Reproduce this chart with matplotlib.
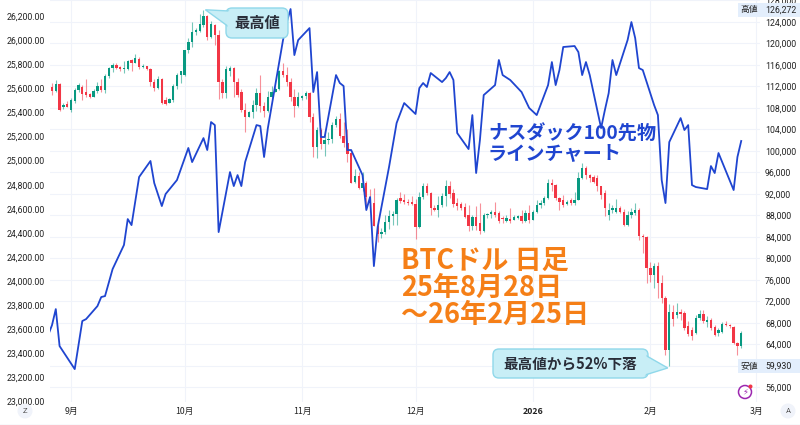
import matplotlib.pyplot as plt
import matplotlib.dates as mdates
from matplotlib.patches import FancyBboxPatch, Polygon, Rectangle, Circle
from matplotlib.transforms import IdentityTransform
import numpy as np
import pandas as pd

plt.rcParams['font.family'] = ['Noto Sans CJK JP', 'DejaVu Sans']

# BTC/USD daily candles (thousand USD), 2025-08-27 .. 2026-02-25
btc_dates = pd.date_range('2025-08-27', '2026-02-25', freq='D')
btc_open = [
    111.9, 111.2, 112.5, 108.2, 108.7, 107.6, 109.3, 111.4, 111.9, 110.9,
    110.6, 110.1, 111.2, 112.1, 111.3, 113.9, 115.4, 116.0, 115.6, 115.3,
    115.3, 116.9, 116.4, 117.2, 115.6, 115.8, 115.3, 112.8, 111.7, 113.4,
    109.4, 109.0, 109.5, 112.1, 114.1, 114.1, 118.7, 120.3, 122.1, 122.4,
    123.5, 125.1, 121.2, 123.4, 121.6, 112.8, 110.7, 114.9, 115.4, 112.9,
    110.9, 107.6, 106.4, 107.2, 108.6, 110.8, 108.4, 107.4, 110.1, 111.0,
    111.6, 114.8, 114.1, 112.9, 110.0, 108.3, 109.8, 110.2, 110.8, 106.4,
    100.8, 103.9, 101.3, 102.0, 102.3, 104.8, 106.0, 102.8, 101.4, 99.6,
    94.2, 95.4, 93.2, 94.0, 91.5, 90.3, 86.0, 84.5, 84.9, 86.8,
    87.9, 88.3, 91.3, 90.9, 90.6, 90.6, 90.2, 85.9, 91.4, 93.4,
    92.1, 89.3, 89.0, 90.0, 91.7, 93.4, 92.2, 90.3, 90.2, 89.6,
    88.1, 86.0, 87.8, 86.6, 85.2, 88.1, 88.3, 88.7, 88.4, 87.6,
    86.9, 87.4, 87.2, 87.6, 87.9, 86.9, 88.4, 87.2, 88.7, 89.9,
    90.3, 91.2, 94.0, 93.6, 91.3, 90.9, 90.2, 90.9, 90.3, 90.9,
    95.0, 96.8, 95.5, 95.2, 94.9, 93.4, 92.2, 88.1, 89.0, 88.7,
    89.3, 88.7, 86.2, 88.1, 88.5, 89.0, 84.2, 84.0, 78.3, 76.9,
    78.6, 75.4, 72.6, 62.9, 70.1, 69.5, 70.0, 69.9, 67.4, 66.7,
    66.1, 68.9, 69.6, 68.2, 68.6, 67.3, 66.1, 66.4, 67.9, 67.7,
    67.3, 64.2, 63.7]
btc_high = [
    112.6, 113.2, 112.7, 108.9, 109.3, 109.8, 111.7, 112.6, 112.3, 113.3,
    110.8, 111.6, 112.9, 113.3, 114.3, 115.6, 116.4, 116.3, 115.9, 116.8,
    117.0, 117.2, 118.0, 117.5, 116.1, 115.9, 115.4, 113.3, 113.9, 113.6,
    110.0, 109.8, 112.4, 114.5, 114.9, 118.8, 121.0, 124.0, 122.8, 125.4,
    126.272, 125.3, 124.2, 123.7, 122.5, 113.4, 115.9, 115.9, 115.6, 113.5,
    111.5, 109.0, 107.5, 109.4, 111.7, 114.1, 109.2, 111.2, 112.0, 111.9,
    115.0, 116.4, 115.6, 113.6, 111.6, 111.0, 110.5, 111.2, 110.9, 107.0,
    104.5, 104.2, 103.8, 103.5, 105.3, 106.6, 107.0, 105.3, 104.0, 99.8,
    96.6, 96.0, 96.0, 94.4, 92.9, 93.1, 86.9, 85.6, 88.0, 89.0,
    88.9, 91.3, 92.4, 92.0, 91.0, 91.7, 91.0, 92.3, 94.0, 94.1,
    92.4, 90.0, 91.6, 92.2, 94.6, 94.4, 92.9, 91.2, 90.6, 90.3,
    90.0, 88.1, 89.7, 90.3, 88.5, 88.5, 89.0, 90.6, 88.9, 87.9,
    88.1, 89.3, 88.0, 88.1, 89.0, 89.1, 89.9, 89.0, 90.9, 90.8,
    91.7, 94.7, 94.7, 93.8, 91.4, 91.9, 90.8, 91.2, 92.4, 96.1,
    97.7, 97.2, 95.8, 95.6, 95.5, 93.5, 92.8, 90.3, 90.0, 91.1,
    89.7, 89.2, 88.9, 89.3, 90.3, 89.4, 84.6, 84.2, 79.3, 79.2,
    79.3, 76.9, 73.1, 71.5, 71.3, 71.7, 70.6, 70.3, 68.3, 67.2,
    69.4, 70.4, 70.5, 69.3, 69.0, 67.6, 67.0, 68.2, 68.3, 67.9,
    67.5, 64.5, 66.5]
btc_low = [
    110.5, 110.9, 107.5, 107.9, 108.1, 107.3, 108.9, 110.9, 109.5, 110.0,
    109.9, 110.0, 110.8, 110.9, 110.8, 113.5, 114.7, 115.2, 114.9, 114.6,
    115.1, 114.8, 116.3, 115.3, 115.4, 115.0, 112.0, 111.2, 111.5, 108.7,
    108.6, 108.9, 109.1, 111.6, 112.7, 113.9, 118.3, 119.3, 121.6, 122.1,
    123.0, 120.6, 121.0, 119.7, 109.7, 109.8, 109.8, 113.9, 110.1, 110.0,
    107.3, 103.6, 106.3, 106.1, 107.4, 107.3, 106.3, 107.2, 109.6, 110.9,
    111.3, 113.8, 112.0, 109.3, 106.3, 108.1, 109.4, 109.6, 105.3, 98.9,
    98.7, 100.3, 99.1, 101.3, 101.5, 104.5, 102.5, 100.8, 98.0, 94.0,
    94.0, 93.0, 92.6, 89.3, 88.6, 86.0, 83.0, 83.9, 84.6, 85.5,
    86.2, 86.3, 90.3, 90.2, 90.0, 89.9, 83.7, 85.6, 91.0, 91.9,
    88.1, 88.9, 87.7, 89.6, 89.7, 91.2, 89.6, 89.1, 89.1, 87.6,
    85.2, 85.3, 85.3, 84.5, 85.0, 87.5, 87.5, 87.8, 86.6, 86.6,
    86.7, 86.6, 87.1, 87.3, 86.6, 86.8, 86.6, 87.1, 88.4, 89.3,
    90.0, 91.0, 92.5, 90.9, 89.0, 89.5, 90.0, 90.0, 90.0, 90.8,
    94.8, 94.8, 94.3, 94.1, 92.6, 91.0, 87.9, 87.2, 88.5, 88.4,
    88.5, 86.0, 86.0, 87.5, 88.0, 83.5, 81.0, 75.5, 75.6, 74.5,
    72.7, 71.8, 62.0, 59.93, 67.5, 69.0, 68.5, 66.7, 65.5, 64.8,
    65.9, 68.5, 68.0, 67.3, 66.7, 65.6, 65.6, 66.1, 67.4, 67.0,
    64.0, 62.1, 63.4]
btc_close = [
    111.2, 112.5, 107.7, 108.6, 108.2, 109.5, 111.3, 112.2, 110.6, 110.4,
    110.1, 111.2, 112.1, 111.3, 113.9, 115.4, 116.0, 115.4, 115.3, 115.5,
    116.7, 116.4, 117.3, 115.6, 115.8, 115.3, 112.8, 111.7, 113.4, 109.0,
    108.8, 109.6, 112.1, 114.1, 114.8, 118.7, 120.2, 122.1, 122.5, 123.7,
    125.1, 121.2, 123.7, 121.6, 112.8, 110.7, 115.2, 115.5, 112.9, 110.4,
    107.6, 106.4, 107.2, 108.6, 110.8, 108.4, 107.4, 110.1, 111.0, 111.6,
    114.8, 114.1, 112.9, 110.0, 108.3, 110.0, 110.2, 110.8, 106.4, 100.8,
    103.9, 101.3, 102.0, 102.3, 104.8, 106.0, 102.8, 101.4, 99.4, 94.1,
    95.4, 93.2, 94.0, 91.5, 90.3, 86.0, 84.5, 84.9, 86.8, 87.9,
    88.3, 90.8, 90.7, 90.5, 90.4, 90.2, 85.9, 91.4, 93.4, 92.1,
    89.3, 89.0, 90.0, 91.7, 93.4, 92.0, 90.1, 89.7, 89.4, 87.8,
    86.0, 87.8, 86.1, 85.2, 88.1, 88.3, 88.7, 88.1, 87.0, 87.3,
    87.5, 87.0, 87.8, 87.9, 86.9, 88.4, 87.2, 88.7, 89.9, 90.3,
    91.2, 94.0, 93.6, 91.3, 90.5, 90.0, 90.6, 90.3, 90.9, 95.0,
    96.8, 95.5, 94.9, 94.3, 93.4, 91.8, 89.3, 89.0, 89.3, 89.3,
    88.7, 86.2, 88.1, 88.7, 89.0, 84.1, 84.0, 78.3, 76.9, 78.6,
    75.4, 72.6, 62.9, 70.1, 68.7, 70.1, 69.6, 67.1, 65.9, 65.6,
    68.9, 69.6, 68.3, 68.5, 67.0, 65.8, 66.7, 67.9, 67.6, 67.4,
    64.2, 63.7, 66.1]

# Nasdaq 100 futures, daily close
nq_dates = [
    '2025-08-26', '2025-08-27', '2025-08-28', '2025-08-29', '2025-09-02',
    '2025-09-04', '2025-09-05', '2025-09-08', '2025-09-09', '2025-09-10',
    '2025-09-12', '2025-09-15', '2025-09-16', '2025-09-17', '2025-09-19',
    '2025-09-22', '2025-09-23', '2025-09-25', '2025-09-26', '2025-09-29',
    '2025-10-02', '2025-10-03', '2025-10-06', '2025-10-07', '2025-10-08',
    '2025-10-09', '2025-10-10', '2025-10-13', '2025-10-14', '2025-10-15',
    '2025-10-16', '2025-10-17', '2025-10-20', '2025-10-21', '2025-10-22',
    '2025-10-23', '2025-10-27', '2025-10-28', '2025-10-29', '2025-10-30',
    '2025-10-31', '2025-11-03', '2025-11-04', '2025-11-05', '2025-11-06',
    '2025-11-07', '2025-11-10', '2025-11-11', '2025-11-12', '2025-11-13',
    '2025-11-14', '2025-11-17', '2025-11-18', '2025-11-19', '2025-11-20',
    '2025-11-21', '2025-11-24', '2025-11-26', '2025-11-28', '2025-12-01',
    '2025-12-02', '2025-12-03', '2025-12-04', '2025-12-05', '2025-12-08',
    '2025-12-09', '2025-12-10', '2025-12-11', '2025-12-12', '2025-12-15',
    '2025-12-16', '2025-12-17', '2025-12-18', '2025-12-19', '2025-12-22',
    '2025-12-23', '2025-12-24', '2025-12-26', '2025-12-29', '2025-12-30',
    '2025-12-31', '2026-01-02', '2026-01-05', '2026-01-06', '2026-01-07',
    '2026-01-08', '2026-01-09', '2026-01-12', '2026-01-13', '2026-01-14',
    '2026-01-15', '2026-01-16', '2026-01-19', '2026-01-20', '2026-01-21',
    '2026-01-22', '2026-01-23', '2026-01-26', '2026-01-27', '2026-01-28',
    '2026-01-29', '2026-01-30', '2026-02-02', '2026-02-03', '2026-02-04',
    '2026-02-05', '2026-02-06', '2026-02-09', '2026-02-10', '2026-02-11',
    '2026-02-12', '2026-02-13', '2026-02-16', '2026-02-17', '2026-02-18',
    '2026-02-19', '2026-02-23', '2026-02-24', '2026-02-25']
nq_close = [
    23553, 23635, 23768, 23461, 23270,
    23669, 23685, 23793, 23868, 23876,
    24100, 24300, 24515, 24465, 24864,
    24997, 24814, 24623, 24723, 24839,
    25105, 24988, 25187, 25088, 25320,
    25295, 24407, 24905, 24789, 24880,
    24789, 24988, 25295, 25287, 25030,
    25270, 26000, 26150, 26258, 25876,
    26000, 26100, 25569, 25735, 25196,
    25196, 25710, 25644, 25619, 25088,
    25088, 24880, 24590, 24698, 24125,
    24449, 24947, 25312, 25478, 25387,
    25602, 25644, 25611, 25727, 25652,
    25685, 25735, 25669, 25229, 25096,
    25378, 24897, 25171, 25544, 25627,
    25835, 25710, 25669, 25569, 25503,
    25437, 25378, 25627, 25818, 25627,
    25752, 25943, 25951, 25901, 25710,
    25818, 25710, 25270, 25420, 25560,
    25835, 25710, 26001, 26150, 26017,
    25768, 25752, 25461, 25378, 24839,
    24648, 25154, 25353, 25254, 25295,
    24797, 24781, 24764, 24955, 24897,
    25063, 24756, 25030, 25163]

month_ticks = ['2025-09-01', '2025-10-01', '2025-11-01', '2025-12-01',
               '2026-01-01', '2026-02-01', '2026-03-01']
month_labels = ['9月', '10月', '11月', '12月', '2026', '2月', '3月']

UP, DOWN = '#089981', '#f23645'
NQ_BLUE = '#1f45d0'
W, H = 800, 425

fig = plt.figure(figsize=(W / 100, H / 100), dpi=100)
ax = fig.add_axes([50 / W, 23 / H, 710 / W, 402 / H])   # BTC, right scale
ax2 = ax.twinx()                                         # NQ, left scale
ax.yaxis.tick_right()
ax2.yaxis.tick_left()

x0 = mdates.date2num(btc_dates[0])
ax.set_xlim(x0 - 0.53, x0 + 186.96)
ax.set_ylim(53.30, 128.09)
ax2.set_ylim(22997, 26333)

# candles
x = mdates.date2num(btc_dates)
o, h, l, c = (np.array(v) for v in (btc_open, btc_high, btc_low, btc_close))
col = np.where(c >= o, UP, DOWN)
ax.vlines(x, l, h, colors=col, lw=0.8, alpha=0.55, zorder=2)
ax.bar(x, np.maximum(np.abs(c - o), 0.15), bottom=np.minimum(o, c),
       width=0.62, color=col, linewidth=0, zorder=3)

# nasdaq line
ax2.plot(mdates.date2num(pd.to_datetime(nq_dates)), nq_close,
         color=NQ_BLUE, lw=1.3, zorder=4)

# axes styling
for a in (ax, ax2):
    for s in a.spines.values():
        s.set_visible(False)
ax.set_yticks(np.arange(56, 129, 4))
ax.set_yticklabels([f'{v * 1000:,.0f}' for v in np.arange(56, 129, 4)])
ax2.set_yticks(np.arange(23000, 26201, 200))
ax2.set_yticklabels([f'{v:,.2f}' for v in np.arange(23000, 26201, 200)])
ax.set_xticks(mdates.date2num(pd.to_datetime(month_ticks)))
ax.set_xticklabels(month_labels)
ax.tick_params(axis='both', length=0, labelsize=6.3, labelcolor='#222',
               pad=3.6)
ax2.tick_params(axis='y', length=0, labelsize=6.3, labelcolor='#222',
                pad=3.6)
for t in ax.get_yticklabels() + ax2.get_yticklabels():
    t.set_fontfamily('Roboto')
for t in ax.get_xticklabels():
    if t.get_text() == '2026':
        t.set_fontweight('bold')
ax.grid(True, color='#f0f3fa', lw=0.8, zorder=0)
ax.set_axisbelow(True)

px = IdentityTransform()


def callout(box, base, apex, text, fs):
    x0_, y0_, x1_, y1_ = box
    fc, ec = '#c8eef6', '#8fd8ea'
    fig.patches.append(FancyBboxPatch(
        (x0_, H - y1_), x1_ - x0_, y1_ - y0_,
        boxstyle='round,pad=0,rounding_size=6', fc=fc, ec=ec, lw=1.0,
        transform=px, figure=fig, zorder=5))
    tri = [(base[0][0], H - base[0][1]), apex, (base[1][0], H - base[1][1])]
    fig.patches.append(Polygon(tri, closed=True, fc=fc, ec=ec, lw=1.0,
                               transform=px, figure=fig, zorder=6))
    fig.patches.append(FancyBboxPatch(
        (x0_ + 1.5, H - y1_ + 1.5), x1_ - x0_ - 3, y1_ - y0_ - 3,
        boxstyle='round,pad=0,rounding_size=5', fc=fc, ec='none',
        transform=px, figure=fig, zorder=7))
    fig.text((x0_ + x1_) / 2, H - (y0_ + y1_) / 2, text, transform=px,
             ha='center', va='center', fontsize=fs, fontweight='bold',
             color='#2a2e39', zorder=8)


peak_i = int(np.argmax(h))
low_i = int(np.argmin(l))
apex_hi = ax.transData.transform((x[peak_i] + 0.5, h[peak_i]))
apex_lo = ax.transData.transform((x[low_i] - 0.4, l[low_i] - 0.3))
callout((226, 8, 288, 38), [(229, 11), (229, 27)], apex_hi, '最高値', 11)
callout((493, 349, 648, 378), [(645, 355), (645, 375)], apex_lo,
        '最高値から52%下落', 10.5)

# text labels
fig.text(488, H - 124, 'ナスダック100先物\nラインチャート', transform=px,
         ha='left', va='top', fontsize=13.8, fontweight='bold',
         color=NQ_BLUE, linespacing=1.12)
fig.text(401, H - 247, 'BTCドル 日足\n25年8月28日\n～26年2月25日', transform=px,
         ha='left', va='top', fontsize=19.5, fontweight='bold',
         color='#f57f17', linespacing=0.96)

# high / low price badges on the right scale
for val, tag in ((h[peak_i], '高値'), (l[low_i], '安値')):
    yy = ax.transData.transform((x0, val))[1]
    fig.patches.append(Rectangle((738, yy - 7), 62, 14, fc='#e3eefc',
                                 ec='none', transform=px, figure=fig))
    fig.text(749.5, yy, tag, transform=px, ha='center', va='center',
             fontsize=6.3, color='#222')
    fig.text(765, yy, f'{val * 1000:,.0f}', transform=px, ha='left',
             va='center', fontsize=6.3, color='#222', fontfamily='Roboto')

# small UI markers
for cx, s in ((25, 'Z'), (788, 'A')):
    fig.patches.append(Circle((cx, H - 411), 7.5, fc='#f0f3fa', ec='none',
                              transform=px, figure=fig))
    fig.text(cx, H - 411, s, transform=px, ha='center', va='center',
             fontsize=5.5, color='#555', fontfamily='Roboto')
fig.patches.append(Circle((745, H - 392), 6.5, fc='white', ec='#9c27b0',
                          lw=1.1, transform=px, figure=fig))
fig.text(745, H - 392, '⚡', transform=px, ha='center', va='center',
         fontsize=6, color='#9c27b0', fontfamily='DejaVu Sans')
fig.patches.append(Circle((750.5, H - 386.5), 2, fc='#f23645', ec='none',
                          transform=px, figure=fig))
fig.add_artist(plt.Line2D([0, 1], [0.5 / H, 0.5 / H], color='#e0e3eb',
                          lw=1, transform=fig.transFigure))

fig.savefig('out.png', dpi=100)
